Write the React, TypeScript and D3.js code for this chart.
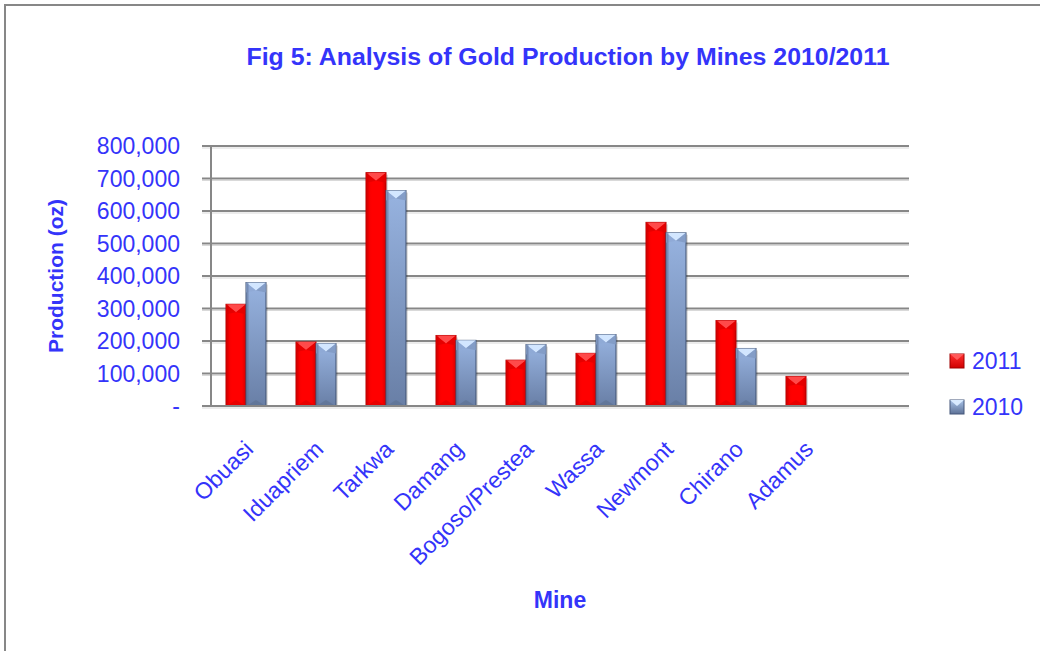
import React from "react";
import * as d3 from "d3";

const categories = ["Obuasi", "Iduapriem", "Tarkwa", "Damang", "Bogoso/Prestea", "Wassa", "Newmont", "Chirano", "Adamus"];
const series2011 = [313000, 197000, 718000, 217000, 141000, 162000, 565000, 263000, 91000];
const series2010: (number | null)[] = [380000, 192000, 663000, 202000, 189000, 220000, 533000, 177000, null];
const yTicks = [0, 100000, 200000, 300000, 400000, 500000, 600000, 700000, 800000];
const seriesNames = ["2011", "2010"];

const W = 1040;
const H = 651;
const FONT = "'Liberation Sans', Arial, sans-serif";
const BLUE_TEXT = "#3434fa";

export default function App() {
  const left = 211, right = 911, top = 146, bottom = 406;
  const x = d3.scaleBand<string>()
    .domain([...categories, ""])
    .range([left, right])
    .paddingInner(0.4286)
    .paddingOuter(0.2143);
  const x1 = d3.scaleBand<string>().domain(seriesNames).range([0, x.bandwidth()]);
  const y = d3.scaleLinear().domain([0, 800000]).range([bottom, top]);
  const fmt = d3.format(",");

  const bar = (key: string, cx: number, v: number, s: number) => {
    const bw = x1.bandwidth();
    const x0 = cx;
    const y0 = y(v);
    const h = bottom - y0;
    const isRed = s === 0;
    const bev = Math.min(8, h / 2);
    return (
      <g key={key}>
        <rect x={x0 + 2} y={y0 + 2} width={bw} height={h - 2} fill="#000" opacity={0.12} />
        <rect x={x0} y={y0} width={bw} height={h} fill={isRed ? "url(#gRed)" : "url(#gBlue)"}
          stroke={isRed ? "#b00000" : "#3f5070"} strokeWidth={1} />
        <polygon points={`${x0},${y0} ${x0 + bw},${y0} ${x0 + bw / 2},${y0 + bev}`}
          fill={isRed ? "#ff4a4a" : "#d2e6ff"} />
        <polygon points={`${x0},${y0} ${x0 + bw / 2},${y0 + bev} ${x0},${y0 + bev + 2}`}
          fill={isRed ? "#e00000" : "#8ea9d4"} opacity={0.8} />
        <polygon points={`${x0 + bw},${y0} ${x0 + bw / 2},${y0 + bev} ${x0 + bw},${y0 + bev + 2}`}
          fill={isRed ? "#e00000" : "#7f98c2"} opacity={0.8} />
        <polygon points={`${x0 + 2},${bottom - 1} ${x0 + bw - 2},${bottom - 1} ${x0 + bw / 2},${bottom - 6}`}
          fill={isRed ? "#d80000" : "#5c6f90"} opacity={0.6} />
        <rect x={x0 + 0.5} y={y0} width={2} height={h} fill={isRed ? "#c80000" : "#5a6e92"} opacity={0.5} />
      </g>
    );
  };

  return (
    <svg width={W} height={H} style={{ position: "absolute", left: 0, top: 0, background: "#fff" }}
      fontFamily={FONT}>
      <defs>
        <linearGradient id="gRed" x1="0" y1="0" x2="1" y2="0">
          <stop offset="0" stopColor="#ee0000" />
          <stop offset="0.3" stopColor="#ff0000" />
          <stop offset="0.8" stopColor="#ff0000" />
          <stop offset="1" stopColor="#d20000" />
        </linearGradient>
        <linearGradient id="gBlue" x1="0" y1="0" x2="0" y2="1">
          <stop offset="0" stopColor="#97b3e0" />
          <stop offset="1" stopColor="#697fa6" />
        </linearGradient>
        <linearGradient id="gRedL" x1="0" y1="0" x2="0" y2="1">
          <stop offset="0" stopColor="#ff3030" />
          <stop offset="1" stopColor="#d00000" />
        </linearGradient>
        <linearGradient id="gBlueL" x1="0" y1="0" x2="0" y2="1">
          <stop offset="0" stopColor="#a9c4ea" />
          <stop offset="1" stopColor="#5d7196" />
        </linearGradient>
      </defs>
      <rect x={5} y={5} width={W + 10} height={H + 10} fill="none" stroke="#878787" strokeWidth={2} />

      <text x={568} y={65} textAnchor="middle" fontSize={23} fontWeight="bold" fill={BLUE_TEXT}
        textLength={643} lengthAdjust="spacingAndGlyphs">
        Fig 5: Analysis of Gold Production by Mines 2010/2011
      </text>

      {/* gridlines */}
      {yTicks.map((t) => (
        <g key={t}>
          <line x1={202} x2={right - 2} y1={y(t) + 2} y2={y(t) + 2} stroke="#d9d9d9" strokeWidth={1} />
          <line x1={202} x2={right - 2} y1={y(t)} y2={y(t)} stroke="#878787" strokeWidth={2} />
          <text x={180} y={y(t)} dy="0.36em" textAnchor="end" fontSize={23} fill={BLUE_TEXT}>
            {t === 0 ? "-" : fmt(t)}
          </text>
        </g>
      ))}
      <line x1={left} x2={left} y1={top} y2={bottom + 1} stroke="#878787" strokeWidth={2} />

      {/* bars */}
      {categories.map((c, i) => {
        const bx = x(c)!;
        const vals = [series2011[i], series2010[i]];
        return (
          <g key={c}>
            {vals.map((v, s) => (v == null ? null : bar(`${c}-${s}`, bx + x1(seriesNames[s])!, v, s)))}
          </g>
        );
      })}
      <line x1={202} x2={right - 2} y1={bottom} y2={bottom} stroke="#878787" strokeWidth={2} />

      {/* x labels */}
      {categories.map((c) => {
        const cx = x(c)! + x.bandwidth() / 2;
        return (
          <text key={c} transform={`translate(${cx + 3},${445}) rotate(-45)`} textAnchor="end"
            dy="0.35em" fontSize={23} fill={BLUE_TEXT}>
            {c}
          </text>
        );
      })}

      <text transform={`translate(63,276) rotate(-90)`} textAnchor="middle" fontSize={21} fontWeight="bold"
        fill={BLUE_TEXT}>
        Production (oz)
      </text>
      <text x={560} y={608} textAnchor="middle" fontSize={23} fontWeight="bold" fill={BLUE_TEXT}>
        Mine
      </text>

      {/* legend */}
      {seriesNames.map((n, i) => {
        const ly = 354 + i * 46;
        const red = i === 0;
        return (
          <g key={n}>
            <rect x={950} y={ly} width={14} height={14} fill={red ? "url(#gRedL)" : "url(#gBlueL)"}
              stroke={red ? "#a00000" : "#45577a"} strokeWidth={1} />
            <polygon points={`${950},${ly} ${964},${ly} ${957},${ly + 6}`} fill={red ? "#ff5a5a" : "#d8eaff"} />
            <text x={972} y={ly + 7} dy="0.36em" fontSize={23} fill={BLUE_TEXT}>{n}</text>
          </g>
        );
      })}
    </svg>
  );
}
